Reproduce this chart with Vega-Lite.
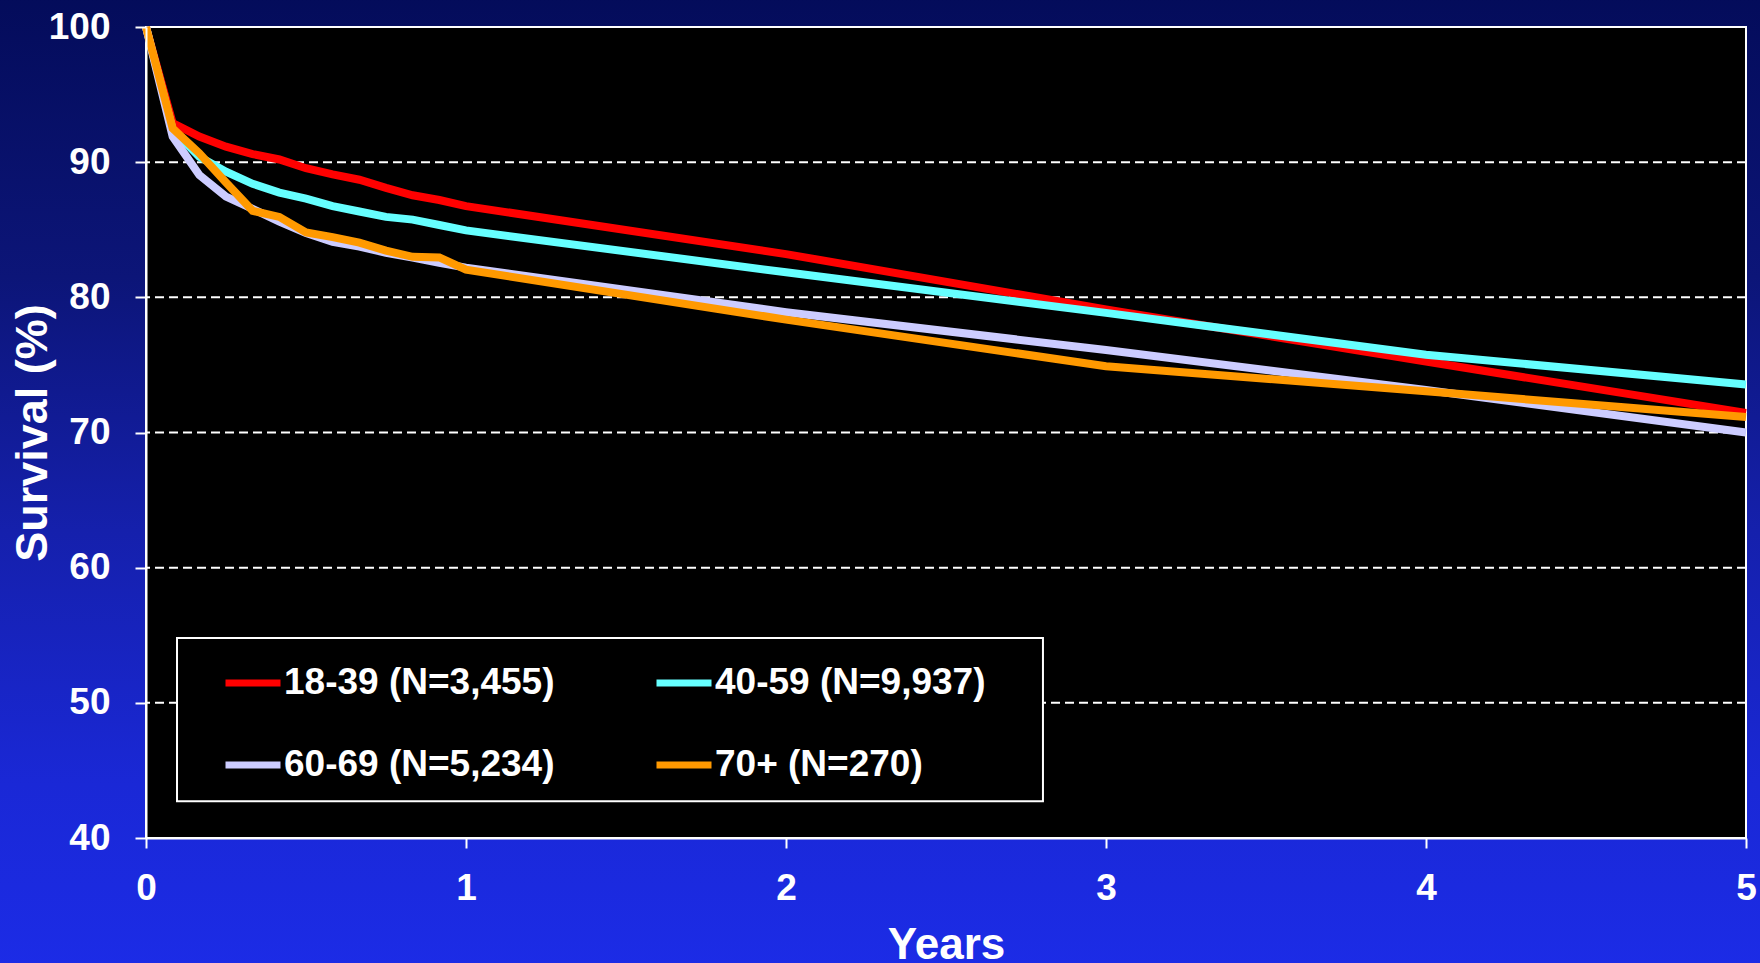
{
  "$schema": "https://vega.github.io/schema/vega-lite/v6.json",
  "width": 1600,
  "height": 811,
  "autosize": {"type": "none"},
  "padding": {"left": 146, "top": 27, "right": 14, "bottom": 125},
  "background": "#1a2ad8",
  "config": {
    "font": "Liberation Sans",
    "view": {"stroke": null}
  },
  "datasets": {
    "survival": [
      {"group": "18-39 (N=3,455)", "t": 0, "s": 100},
      {"group": "18-39 (N=3,455)", "t": 0.0833, "s": 92.9},
      {"group": "18-39 (N=3,455)", "t": 0.1667, "s": 91.9},
      {"group": "18-39 (N=3,455)", "t": 0.25, "s": 91.15},
      {"group": "18-39 (N=3,455)", "t": 0.3333, "s": 90.6},
      {"group": "18-39 (N=3,455)", "t": 0.4167, "s": 90.2},
      {"group": "18-39 (N=3,455)", "t": 0.5, "s": 89.55},
      {"group": "18-39 (N=3,455)", "t": 0.5833, "s": 89.1},
      {"group": "18-39 (N=3,455)", "t": 0.6667, "s": 88.7},
      {"group": "18-39 (N=3,455)", "t": 0.75, "s": 88.1},
      {"group": "18-39 (N=3,455)", "t": 0.8333, "s": 87.55},
      {"group": "18-39 (N=3,455)", "t": 0.9167, "s": 87.2},
      {"group": "18-39 (N=3,455)", "t": 1, "s": 86.75},
      {"group": "18-39 (N=3,455)", "t": 2, "s": 83.2},
      {"group": "18-39 (N=3,455)", "t": 3, "s": 79.1},
      {"group": "18-39 (N=3,455)", "t": 4, "s": 75.25},
      {"group": "18-39 (N=3,455)", "t": 5, "s": 71.45},
      {"group": "40-59 (N=9,937)", "t": 0, "s": 100},
      {"group": "40-59 (N=9,937)", "t": 0.0833, "s": 92.4},
      {"group": "40-59 (N=9,937)", "t": 0.1667, "s": 90.4},
      {"group": "40-59 (N=9,937)", "t": 0.25, "s": 89.3},
      {"group": "40-59 (N=9,937)", "t": 0.3333, "s": 88.4},
      {"group": "40-59 (N=9,937)", "t": 0.4167, "s": 87.75},
      {"group": "40-59 (N=9,937)", "t": 0.5, "s": 87.3},
      {"group": "40-59 (N=9,937)", "t": 0.5833, "s": 86.75},
      {"group": "40-59 (N=9,937)", "t": 0.6667, "s": 86.35},
      {"group": "40-59 (N=9,937)", "t": 0.75, "s": 85.95},
      {"group": "40-59 (N=9,937)", "t": 0.8333, "s": 85.75},
      {"group": "40-59 (N=9,937)", "t": 0.9167, "s": 85.35},
      {"group": "40-59 (N=9,937)", "t": 1, "s": 84.95},
      {"group": "40-59 (N=9,937)", "t": 2, "s": 81.85},
      {"group": "40-59 (N=9,937)", "t": 3, "s": 78.85},
      {"group": "40-59 (N=9,937)", "t": 4, "s": 75.75},
      {"group": "40-59 (N=9,937)", "t": 5, "s": 73.55},
      {"group": "60-69 (N=5,234)", "t": 0, "s": 100},
      {"group": "60-69 (N=5,234)", "t": 0.0833, "s": 91.9},
      {"group": "60-69 (N=5,234)", "t": 0.1667, "s": 89.05},
      {"group": "60-69 (N=5,234)", "t": 0.25, "s": 87.45},
      {"group": "60-69 (N=5,234)", "t": 0.3333, "s": 86.55},
      {"group": "60-69 (N=5,234)", "t": 0.4167, "s": 85.6},
      {"group": "60-69 (N=5,234)", "t": 0.5, "s": 84.75},
      {"group": "60-69 (N=5,234)", "t": 0.5833, "s": 84.1},
      {"group": "60-69 (N=5,234)", "t": 0.6667, "s": 83.75},
      {"group": "60-69 (N=5,234)", "t": 0.75, "s": 83.3},
      {"group": "60-69 (N=5,234)", "t": 0.8333, "s": 82.95},
      {"group": "60-69 (N=5,234)", "t": 0.9167, "s": 82.55},
      {"group": "60-69 (N=5,234)", "t": 1, "s": 82.2},
      {"group": "60-69 (N=5,234)", "t": 2, "s": 78.9},
      {"group": "60-69 (N=5,234)", "t": 3, "s": 76.1},
      {"group": "60-69 (N=5,234)", "t": 4, "s": 73.15},
      {"group": "60-69 (N=5,234)", "t": 5, "s": 70.0},
      {"group": "70+ (N=270)", "t": 0, "s": 100},
      {"group": "70+ (N=270)", "t": 0.0833, "s": 92.5},
      {"group": "70+ (N=270)", "t": 0.1667, "s": 90.65},
      {"group": "70+ (N=270)", "t": 0.25, "s": 88.5},
      {"group": "70+ (N=270)", "t": 0.3333, "s": 86.4},
      {"group": "70+ (N=270)", "t": 0.4167, "s": 85.95},
      {"group": "70+ (N=270)", "t": 0.5, "s": 84.8},
      {"group": "70+ (N=270)", "t": 0.5833, "s": 84.45},
      {"group": "70+ (N=270)", "t": 0.6667, "s": 84.05},
      {"group": "70+ (N=270)", "t": 0.75, "s": 83.45},
      {"group": "70+ (N=270)", "t": 0.8333, "s": 83.0},
      {"group": "70+ (N=270)", "t": 0.9167, "s": 82.95},
      {"group": "70+ (N=270)", "t": 1, "s": 82.05},
      {"group": "70+ (N=270)", "t": 2, "s": 78.35},
      {"group": "70+ (N=270)", "t": 3, "s": 74.9},
      {"group": "70+ (N=270)", "t": 4, "s": 73.05},
      {"group": "70+ (N=270)", "t": 5, "s": 71.15}
    ]
  },
  "layer": [
    {
      "data": {"values": [{}]},
      "mark": {
        "type": "rect",
        "color": {
          "gradient": "linear",
          "x1": 0, "y1": 0, "x2": 0, "y2": 1,
          "stops": [
            {"offset": 0, "color": "#030b58"},
            {"offset": 0.3, "color": "#0c1578"},
            {"offset": 0.55, "color": "#1520ac"},
            {"offset": 0.8, "color": "#1a28d6"},
            {"offset": 1, "color": "#1c2ce8"}
          ]
        }
      },
      "encoding": {
        "x": {"datum": -0.6, "type": "quantitative", "scale": {"domain": [0, 5]}, "title": "Years"},
        "x2": {"datum": 5.2},
        "y": {"datum": 104, "type": "quantitative", "scale": {"domain": [40, 100]}, "title": "Survival (%)"},
        "y2": {"datum": 29}
      }
    },
    {
      "data": {"values": [{}]},
      "mark": {"type": "rect", "fill": "black", "stroke": "white", "strokeWidth": 2},
      "encoding": {
        "x": {"datum": 0, "type": "quantitative", "scale": {"domain": [0, 5]}, "title": "Years"},
        "x2": {"datum": 5},
        "y": {"datum": 40, "type": "quantitative", "scale": {"domain": [40, 100]}, "title": "Survival (%)"},
        "y2": {"datum": 100}
      }
    },
    {
      "data": {"values": [{"g": 50}, {"g": 60}, {"g": 70}, {"g": 80}, {"g": 90}]},
      "mark": {"type": "rule", "color": "white", "strokeWidth": 2, "strokeDash": [9, 5]},
      "encoding": {
        "y": {"field": "g", "type": "quantitative", "scale": {"domain": [40, 100]}, "title": "Survival (%)"}
      }
    },
    {
      "data": {"values": [{}]},
      "mark": {"type": "rect", "fill": "black", "stroke": "white", "strokeWidth": 2},
      "encoding": {
        "x": {"datum": 0.0969, "type": "quantitative", "scale": {"domain": [0, 5]}, "title": "Years"},
        "x2": {"datum": 2.803},
        "y": {"datum": 54.8, "type": "quantitative", "scale": {"domain": [40, 100]}, "title": "Survival (%)"},
        "y2": {"datum": 42.72}
      }
    },
    {
      "data": {"name": "survival"},
      "mark": {"type": "line", "strokeWidth": 8},
      "encoding": {
        "x": {
          "field": "t", "type": "quantitative",
          "scale": {"domain": [0, 5]},
          "title": "Years",
          "axis": {
            "values": [0, 1, 2, 3, 4, 5], "format": "d",
            "labelFlush": false, "labelOverlap": false, "grid": false,
            "domainColor": "white", "domainWidth": 2,
            "tickColor": "white", "tickWidth": 2, "tickSize": 10,
            "labelColor": "white", "labelFont": "Liberation Sans", "labelFontSize": 37, "labelFontWeight": "bold", "labelPadding": 22,
            "titleColor": "white", "titleFont": "Liberation Sans", "titleFontSize": 44, "titleFontWeight": "bold", "titleY": 85,
            "zindex": 1
          }
        },
        "y": {
          "field": "s", "type": "quantitative",
          "scale": {"domain": [40, 100]},
          "title": "Survival (%)",
          "axis": {
            "values": [40, 50, 60, 70, 80, 90, 100],
            "labelFlush": false, "labelOverlap": false, "grid": false,
            "domainColor": "white", "domainWidth": 2,
            "tickColor": "white", "tickWidth": 2, "tickSize": 11,
            "labelColor": "white", "labelFont": "Liberation Sans", "labelFontSize": 37, "labelFontWeight": "bold", "labelPadding": 25,
            "titleColor": "white", "titleFont": "Liberation Sans", "titleFontSize": 45, "titleFontWeight": "bold", "titleX": -91,
            "zindex": 1
          }
        },
        "color": {
          "field": "group", "type": "nominal",
          "scale": {
            "domain": ["18-39 (N=3,455)", "40-59 (N=9,937)", "60-69 (N=5,234)", "70+ (N=270)"],
            "range": ["#ff0000", "#66ffff", "#ccccff", "#ff9900"]
          },
          "legend": {
            "orient": "none", "legendX": 76, "legendY": 625, "columns": 2, "direction": "horizontal",
            "title": null, "padding": 0,
            "symbolType": "stroke", "symbolSize": 3025, "symbolStrokeWidth": 7,
            "labelColor": "white", "labelFont": "Liberation Sans", "labelFontSize": 37, "labelFontWeight": "bold",
            "labelLimit": 600, "labelOffset": 0, "rowPadding": 33, "columnPadding": 87
          }
        }
      }
    }
  ]
}
